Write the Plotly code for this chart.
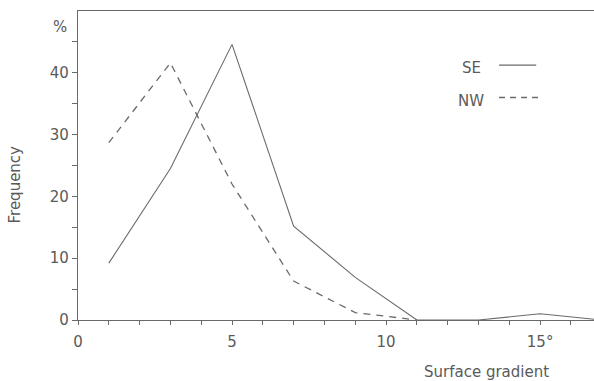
import plotly.graph_objects as go

# Frequency (%) of surface gradients (degrees) on SE and NW facing slopes
gradient_se = [1, 3, 5, 7, 9, 11, 13, 15, 17]
freq_se = [9.2, 24.5, 44.6, 15.2, 6.9, 0, 0, 1.0, 0]

gradient_nw = [1, 3, 5, 7, 9, 11]
freq_nw = [28.7, 41.6, 22.0, 6.3, 1.2, 0]

x_tick_vals = [0, 5, 10, 15]
x_tick_text = ["0", "5", "10", "15°"]
y_tick_vals = [0, 10, 20, 30, 40]
y_tick_text = ["0", "10", "20", "30", "40"]

INK = "#6a6a6a"
TEXT = "#5a5a5a"
FONT = "DejaVu Sans"

fig = go.Figure()
fig.add_trace(go.Scatter(x=gradient_se, y=freq_se, mode="lines",
                         line=dict(color=INK, width=1.1), name="SE"))
fig.add_trace(go.Scatter(x=gradient_nw, y=freq_nw, mode="lines",
                         line=dict(color=INK, width=1.3, dash="7px,6px"), name="NW"))

fig.update_layout(
    width=594, height=381,
    margin=dict(l=78, r=0, t=11, b=61),
    paper_bgcolor="white", plot_bgcolor="white",
    showlegend=False,
    font=dict(family=FONT, size=15, color=TEXT),
    xaxis=dict(range=[0, 16.75], showgrid=False, zeroline=False,
               showline=True, linecolor=INK, linewidth=1.2, mirror=True,
               ticks="outside", ticklen=4, tickcolor=INK, tickwidth=1,
               ticklabelstandoff=4,
               tickvals=list(range(0, 17)),
               ticktext=[x_tick_text[x_tick_vals.index(v)] if v in x_tick_vals else ""
                         for v in range(0, 17)],
               tickfont=dict(size=15, color=TEXT)),
    yaxis=dict(range=[0, 50], showgrid=False, zeroline=False,
               showline=True, linecolor=INK, linewidth=1.2,
               ticks="outside", ticklen=5, tickcolor=INK, tickwidth=1,
               tickvals=list(range(0, 50, 5)),
               ticktext=[y_tick_text[y_tick_vals.index(v)] if v in y_tick_vals else ""
                         for v in range(0, 50, 5)],
               tickfont=dict(size=15, color=TEXT)),
)

# Axis titles
fig.add_annotation(text="Frequency", x=-0.123, y=0.437, xref="paper", yref="paper",
                   xanchor="center", yanchor="middle",
                   textangle=-90, showarrow=False, font=dict(size=15, color=TEXT))
fig.add_annotation(text="Surface gradient", x=0.792, y=-0.168, xref="paper", yref="paper",
                   xanchor="center", yanchor="middle",
                   showarrow=False, font=dict(size=15, color=TEXT))
fig.add_annotation(text="%", x=-0.035, y=0.948, xref="paper", yref="paper",
                   xanchor="center", yanchor="middle",
                   showarrow=False, font=dict(size=15, color=TEXT))

# Key
fig.add_annotation(text="SE", x=0.762, y=0.815, xref="paper", yref="paper",
                   xanchor="center", yanchor="middle",
                   showarrow=False, font=dict(size=15, color=TEXT))
fig.add_annotation(text="NW", x=0.762, y=0.71, xref="paper", yref="paper",
                   xanchor="center", yanchor="middle",
                   showarrow=False, font=dict(size=15, color=TEXT))
fig.add_shape(type="line", xref="paper", yref="paper", x0=0.816, x1=0.888,
              y0=0.825, y1=0.825, line=dict(color=INK, width=1.1))
fig.add_shape(type="line", xref="paper", yref="paper", x0=0.816, x1=0.892,
              y0=0.72, y1=0.72, line=dict(color=INK, width=1.3, dash="6px,5px"))

fig.write_html("out.html")
